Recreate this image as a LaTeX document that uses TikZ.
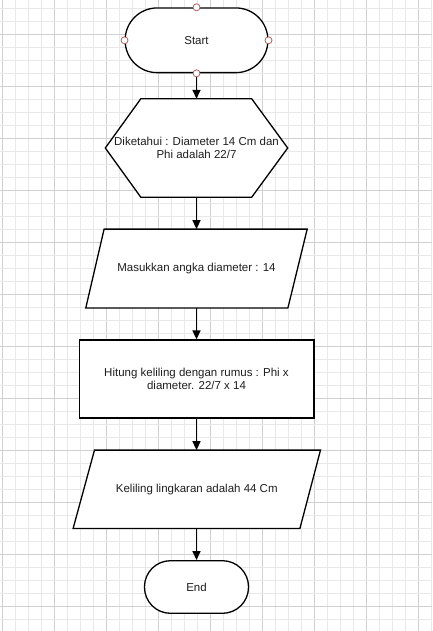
\documentclass[tikz,border=0pt]{standalone}
\usepackage{fontspec}
\setmainfont{Liberation Sans}
\usetikzlibrary{arrows.meta,calc}
\pgfdeclarelayer{background}
\pgfsetlayers{background,main}
\definecolor{gridminor}{RGB}{232,232,232}
\definecolor{gridmajor}{RGB}{208,208,208}
\definecolor{handle}{RGB}{190,90,90}
\definecolor{txtcol}{RGB}{30,30,30}
\begin{document}
\begin{tikzpicture}[x=1pt,y=-1pt,
  txt/.style={font=\fontsize{11.5}{13.3}\selectfont, text=txtcol, align=center, inner sep=0pt},
  outline/.style={draw=black, line width=1.3pt, fill=white, line join=miter},
  arr/.style={line width=1.6pt, -{Triangle[length=9pt,width=8pt]}},
  handlestyle/.style={draw=handle, line width=0.8pt, fill=white}]
\useasboundingbox (0,0) rectangle (432,631);
\begin{pgfonlayer}{background}
  \fill[white] (0,0) rectangle (432,631);
  \foreach \k in {0,...,33} {
    \pgfmathsetmacro{\xx}{2.3+13*\k}
    \pgfmathtruncatemacro{\m}{mod(\k,4)}
    \ifnum\m=0
      \draw[gridmajor, line width=0.9pt] (\xx,0) -- (\xx,631);
    \else
      \draw[gridminor, line width=0.9pt] (\xx,0) -- (\xx,631);
    \fi
  }
  \foreach \k in {0,...,47} {
    \pgfmathsetmacro{\yy}{8.3+13*\k}
    \pgfmathtruncatemacro{\m}{mod(\k+2,4)}
    \ifnum\m=0
      \draw[gridmajor, line width=0.9pt] (0,\yy) -- (432,\yy);
    \else
      \draw[gridminor, line width=0.9pt] (0,\yy) -- (432,\yy);
    \fi
  }
\end{pgfonlayer}

% Start
\node[txt, outline, rounded corners=32pt, minimum width=142.7pt, minimum height=64.7pt] (start) at (196.5,40.3) {Start};

% Hexagon
\node[txt, minimum width=182pt, minimum height=98pt] (hex) at (196.5,148) {Diketahui : Diameter 14 Cm dan\\Phi adalah 22/7};
\begin{pgfonlayer}{background}
  \draw[outline] (hex.west) -- ([xshift=35.5pt]hex.north west) -- ([xshift=-36pt]hex.north east) -- (hex.east) -- ([xshift=-36pt]hex.south east) -- ([xshift=35.5pt]hex.south west) -- cycle;
\end{pgfonlayer}

% Input parallelogram
\node[txt, minimum width=221pt, minimum height=78.4pt] (inp) at (196.5,268.5) {Masukkan angka diameter : 14};
\begin{pgfonlayer}{background}
  \draw[outline] (inp.south west) -- ([xshift=18.3pt]inp.north west) -- (inp.north east) -- ([xshift=-19.3pt]inp.south east) -- cycle;
\end{pgfonlayer}

% Process rectangle
\node[txt, outline, minimum width=234.7pt, minimum height=78pt] (calc) at (196.5,379) {Hitung keliling dengan rumus : Phi x\\diameter. 22/7 x 14};

% Output parallelogram
\node[txt, minimum width=247pt, minimum height=78pt] (outp) at (196.8,489.3) {Keliling lingkaran adalah 44 Cm};
\begin{pgfonlayer}{background}
  \draw[outline] (outp.south west) -- ([xshift=21.4pt]outp.north west) -- (outp.north east) -- ([xshift=-20.6pt]outp.south east) -- cycle;
\end{pgfonlayer}

% End
\node[txt, outline, rounded corners=26pt, minimum width=104pt, minimum height=52.6pt] (end) at (196.5,587) {End};

% Connectors
\draw[arr] (start) -- (hex);
\draw[arr] (hex) -- (inp);
\draw[arr] (inp) -- (calc);
\draw[arr] (calc) -- (outp.north -| calc.south);
\draw[arr] (outp.south -| end.north) -- (end);

% Handles on Start
\foreach \a in {north,south,east,west}
  \draw[handlestyle] (start.\a) circle (3.5pt);
\end{tikzpicture}
\end{document}
